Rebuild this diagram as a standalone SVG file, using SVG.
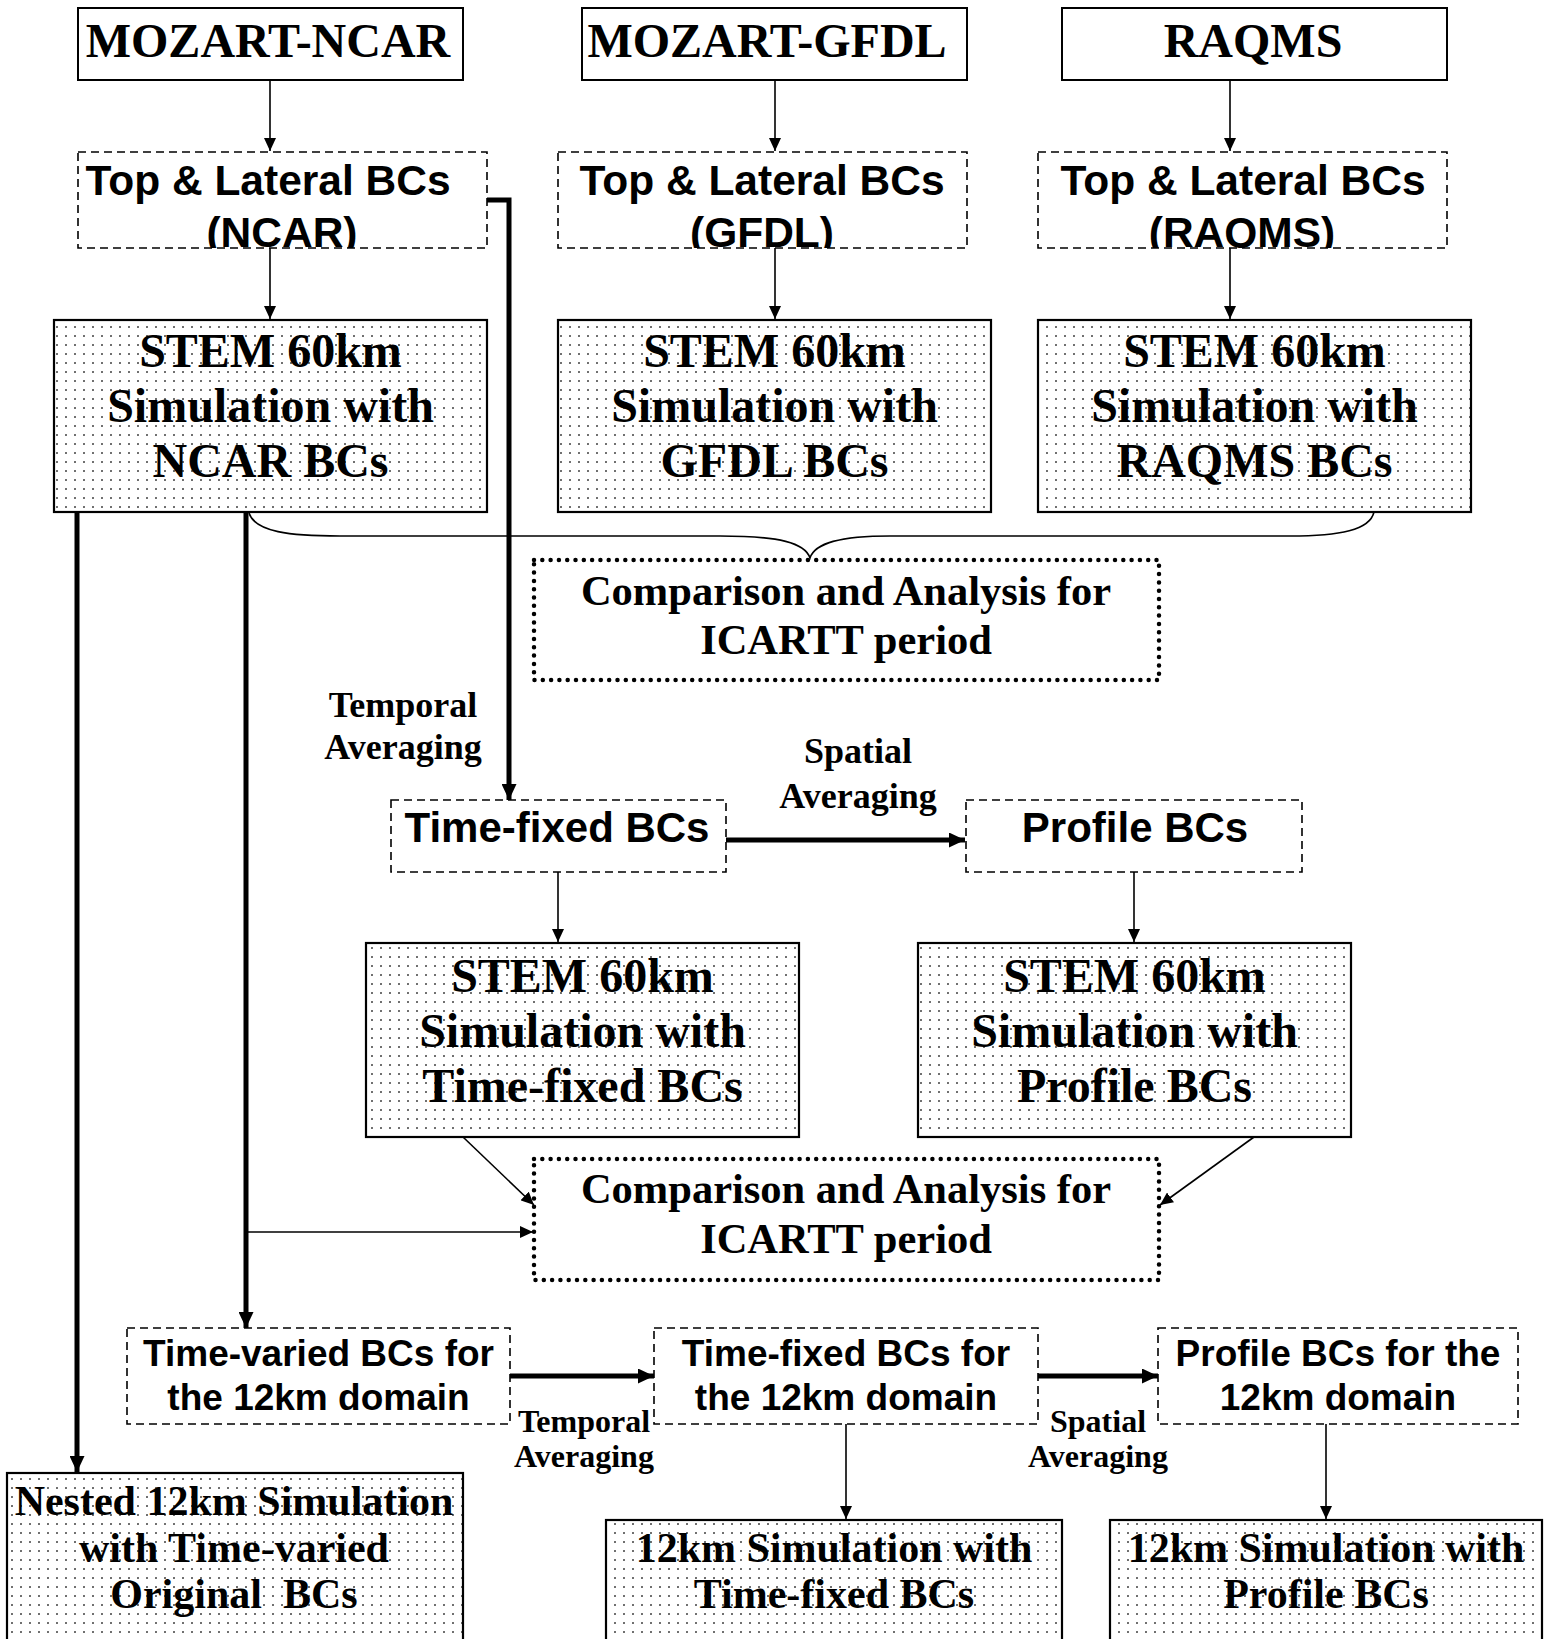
<svg xmlns="http://www.w3.org/2000/svg" width="1546" height="1639" viewBox="0 0 1546 1639">
<style>
.serif{font-family:"Liberation Serif","Times New Roman",serif;font-weight:bold;text-anchor:middle;fill:#000}
.sans{font-family:"Liberation Sans",Arial,sans-serif;font-weight:bold;text-anchor:middle;fill:#000}
.solid{fill:#fff;stroke:#000;stroke-width:2}
.dashed{fill:#fff;stroke:#000;stroke-width:1.6;stroke-dasharray:8 5}
.dotted{fill:#fff;stroke:#000;stroke-width:4.5;stroke-dasharray:0 8.3;stroke-linecap:round}
.sim{fill:url(#dots);stroke:#000;stroke-width:2.2}
.thin{fill:none;stroke:#000;stroke-width:1.6}
.thick{fill:none;stroke:#000;stroke-width:5}
</style>
<defs>
<pattern id="dots" width="9" height="9" patternUnits="userSpaceOnUse">
<rect width="9" height="9" fill="#fff"/>
<circle cx="3" cy="3" r="0.95" fill="#333"/>
</pattern>
<marker id="ah" markerUnits="userSpaceOnUse" markerWidth="13" markerHeight="12" refX="13" refY="6" orient="auto">
<path d="M0,0 L13,6 L0,12 z" fill="#000"/>
</marker>
<marker id="ahb" markerUnits="userSpaceOnUse" markerWidth="16" markerHeight="15" refX="16" refY="7.5" orient="auto">
<path d="M0,0 L16,7.5 L0,15 z" fill="#000"/>
</marker>
<clipPath id="c1"><rect x="78" y="152" width="409" height="96"/></clipPath>
<clipPath id="c2"><rect x="558" y="152" width="409" height="96"/></clipPath>
<clipPath id="c3"><rect x="1038" y="152" width="409" height="96"/></clipPath>
</defs>
<rect width="1546" height="1639" fill="#fff"/>

<g id="connectors">
<path class="thin" d="M270,80 V151" marker-end="url(#ah)"/>
<path class="thin" d="M775,80 V151" marker-end="url(#ah)"/>
<path class="thin" d="M1230,80 V151" marker-end="url(#ah)"/>
<path class="thin" d="M270,248 V319" marker-end="url(#ah)"/>
<path class="thin" d="M775,248 V319" marker-end="url(#ah)"/>
<path class="thin" d="M1230,248 V319" marker-end="url(#ah)"/>
<path class="thick" d="M487,200 H509 V800" marker-end="url(#ahb)"/>
<path class="thick" d="M77,512 V1472" marker-end="url(#ahb)"/>
<path class="thick" d="M246,512 V1328" marker-end="url(#ahb)"/>
<path class="thin" d="M246,1232 H533" marker-end="url(#ah)"/>
<path class="thin" d="M249,513 C255,532 290,536 340,536 L720,536 C780,536 805,543 810,558 C815,543 840,536 890,536 L1290,536 C1340,536 1370,530 1374,512"/>
<path class="thick" d="M726,840 H965" marker-end="url(#ahb)"/>
<path class="thin" d="M558,872 V942" marker-end="url(#ah)"/>
<path class="thin" d="M1134,872 V942" marker-end="url(#ah)"/>
<path class="thin" d="M463,1137 L534,1205" marker-end="url(#ah)"/>
<path class="thin" d="M1254,1137 L1160,1205" marker-end="url(#ah)"/>
<path class="thick" d="M510,1376 H654" marker-end="url(#ahb)"/>
<path class="thick" d="M1038,1376 H1158" marker-end="url(#ahb)"/>
<path class="thin" d="M846,1424 V1519" marker-end="url(#ah)"/>
<path class="thin" d="M1326,1424 V1519" marker-end="url(#ah)"/>
</g>

<g id="mozart-ncar">
<rect class="solid" x="78" y="8" width="385" height="72"/>
<text class="serif" x="268" y="57" font-size="48">MOZART-NCAR</text>
</g>
<g id="mozart-gfdl">
<rect class="solid" x="582" y="8" width="385" height="72"/>
<text class="serif" x="767" y="57" font-size="48">MOZART-GFDL</text>
</g>
<g id="raqms">
<rect class="solid" x="1062" y="8" width="385" height="72"/>
<text class="serif" x="1253" y="57" font-size="48">RAQMS</text>
</g>

<g id="bc-ncar">
<rect class="dashed" x="78" y="152" width="409" height="96"/>
<g clip-path="url(#c1)">
<text class="sans" x="268" y="195" font-size="42.5">Top &amp; Lateral BCs</text>
<text class="sans" x="282" y="247" font-size="42.5">(NCAR)</text>
</g>
</g>
<g id="bc-gfdl">
<rect class="dashed" x="558" y="152" width="409" height="96"/>
<g clip-path="url(#c2)">
<text class="sans" x="762" y="195" font-size="42.5">Top &amp; Lateral BCs</text>
<text class="sans" x="762" y="247" font-size="42.5">(GFDL)</text>
</g>
</g>
<g id="bc-raqms">
<rect class="dashed" x="1038" y="152" width="409" height="96"/>
<g clip-path="url(#c3)">
<text class="sans" x="1243" y="195" font-size="42.5">Top &amp; Lateral BCs</text>
<text class="sans" x="1242" y="247" font-size="42.5">(RAQMS)</text>
</g>
</g>

<g id="stem-ncar">
<rect class="sim" x="54" y="320" width="433" height="192"/>
<text class="serif" x="270.5" y="367" font-size="48">STEM 60km</text>
<text class="serif" x="270.5" y="422" font-size="48">Simulation with</text>
<text class="serif" x="270.5" y="477" font-size="48">NCAR BCs</text>
</g>
<g id="stem-gfdl">
<rect class="sim" x="558" y="320" width="433" height="192"/>
<text class="serif" x="774.5" y="367" font-size="48">STEM 60km</text>
<text class="serif" x="774.5" y="422" font-size="48">Simulation with</text>
<text class="serif" x="774.5" y="477" font-size="48">GFDL BCs</text>
</g>
<g id="stem-raqms">
<rect class="sim" x="1038" y="320" width="433" height="192"/>
<text class="serif" x="1254.5" y="367" font-size="48">STEM 60km</text>
<text class="serif" x="1254.5" y="422" font-size="48">Simulation with</text>
<text class="serif" x="1254.5" y="477" font-size="48">RAQMS BCs</text>
</g>

<g id="comparison-1">
<rect class="dotted" x="534" y="560" width="625" height="120"/>
<text class="serif" x="846" y="605" font-size="42.5">Comparison and Analysis for</text>
<text class="serif" x="846" y="654" font-size="42.5">ICARTT period</text>
</g>

<g id="label-temporal-1">
<text class="serif" x="403" y="717" font-size="36">Temporal</text>
<text class="serif" x="403" y="759" font-size="36">Averaging</text>
</g>
<g id="label-spatial-1">
<text class="serif" x="858" y="763" font-size="36">Spatial</text>
<text class="serif" x="858" y="808" font-size="36">Averaging</text>
</g>

<g id="time-fixed-bcs">
<rect class="dashed" x="391" y="800" width="335" height="72"/>
<text class="sans" x="557" y="842" font-size="42">Time-fixed BCs</text>
</g>
<g id="profile-bcs">
<rect class="dashed" x="966" y="800" width="336" height="72"/>
<text class="sans" x="1135" y="842" font-size="42">Profile BCs</text>
</g>

<g id="stem-time-fixed">
<rect class="sim" x="366" y="943" width="433" height="194"/>
<text class="serif" x="582.5" y="992" font-size="48">STEM 60km</text>
<text class="serif" x="582.5" y="1047" font-size="48">Simulation with</text>
<text class="serif" x="582.5" y="1102" font-size="48">Time-fixed BCs</text>
</g>
<g id="stem-profile">
<rect class="sim" x="918" y="943" width="433" height="194"/>
<text class="serif" x="1134.5" y="992" font-size="48">STEM 60km</text>
<text class="serif" x="1134.5" y="1047" font-size="48">Simulation with</text>
<text class="serif" x="1134.5" y="1102" font-size="48">Profile BCs</text>
</g>

<g id="comparison-2">
<rect class="dotted" x="534" y="1159" width="625" height="121"/>
<text class="serif" x="846" y="1203" font-size="42.5">Comparison and Analysis for</text>
<text class="serif" x="846" y="1253" font-size="42.5">ICARTT period</text>
</g>

<g id="time-varied-12km">
<rect class="dashed" x="127" y="1328" width="383" height="96"/>
<text class="sans" x="318.5" y="1366" font-size="37">Time-varied BCs for</text>
<text class="sans" x="318.5" y="1410" font-size="37">the 12km domain</text>
</g>
<g id="time-fixed-12km">
<rect class="dashed" x="654" y="1328" width="384" height="96"/>
<text class="sans" x="846" y="1366" font-size="37">Time-fixed BCs for</text>
<text class="sans" x="846" y="1410" font-size="37">the 12km domain</text>
</g>
<g id="profile-12km">
<rect class="dashed" x="1158" y="1328" width="360" height="96"/>
<text class="sans" x="1338" y="1366" font-size="37">Profile BCs for the</text>
<text class="sans" x="1338" y="1410" font-size="37">12km domain</text>
</g>

<g id="label-temporal-2">
<text class="serif" x="584" y="1432" font-size="32">Temporal</text>
<text class="serif" x="584" y="1467" font-size="32">Averaging</text>
</g>
<g id="label-spatial-2">
<text class="serif" x="1098" y="1432" font-size="32">Spatial</text>
<text class="serif" x="1098" y="1467" font-size="32">Averaging</text>
</g>

<g id="nested-12km">
<rect class="sim" x="7" y="1473" width="456" height="180"/>
<text class="serif" x="234" y="1515" font-size="42">Nested 12km Simulation</text>
<text class="serif" x="234" y="1562" font-size="42">with Time-varied</text>
<text class="serif" x="234" y="1608" font-size="42" style="white-space:pre">Original  BCs</text>
</g>
<g id="sim-12km-time-fixed">
<rect class="sim" x="606" y="1520" width="456" height="130"/>
<text class="serif" x="834" y="1562" font-size="42">12km Simulation with</text>
<text class="serif" x="834" y="1608" font-size="42">Time-fixed BCs</text>
</g>
<g id="sim-12km-profile">
<rect class="sim" x="1110" y="1520" width="432" height="130"/>
<text class="serif" x="1326" y="1562" font-size="42">12km Simulation with</text>
<text class="serif" x="1326" y="1608" font-size="42">Profile BCs</text>
</g>
</svg>
